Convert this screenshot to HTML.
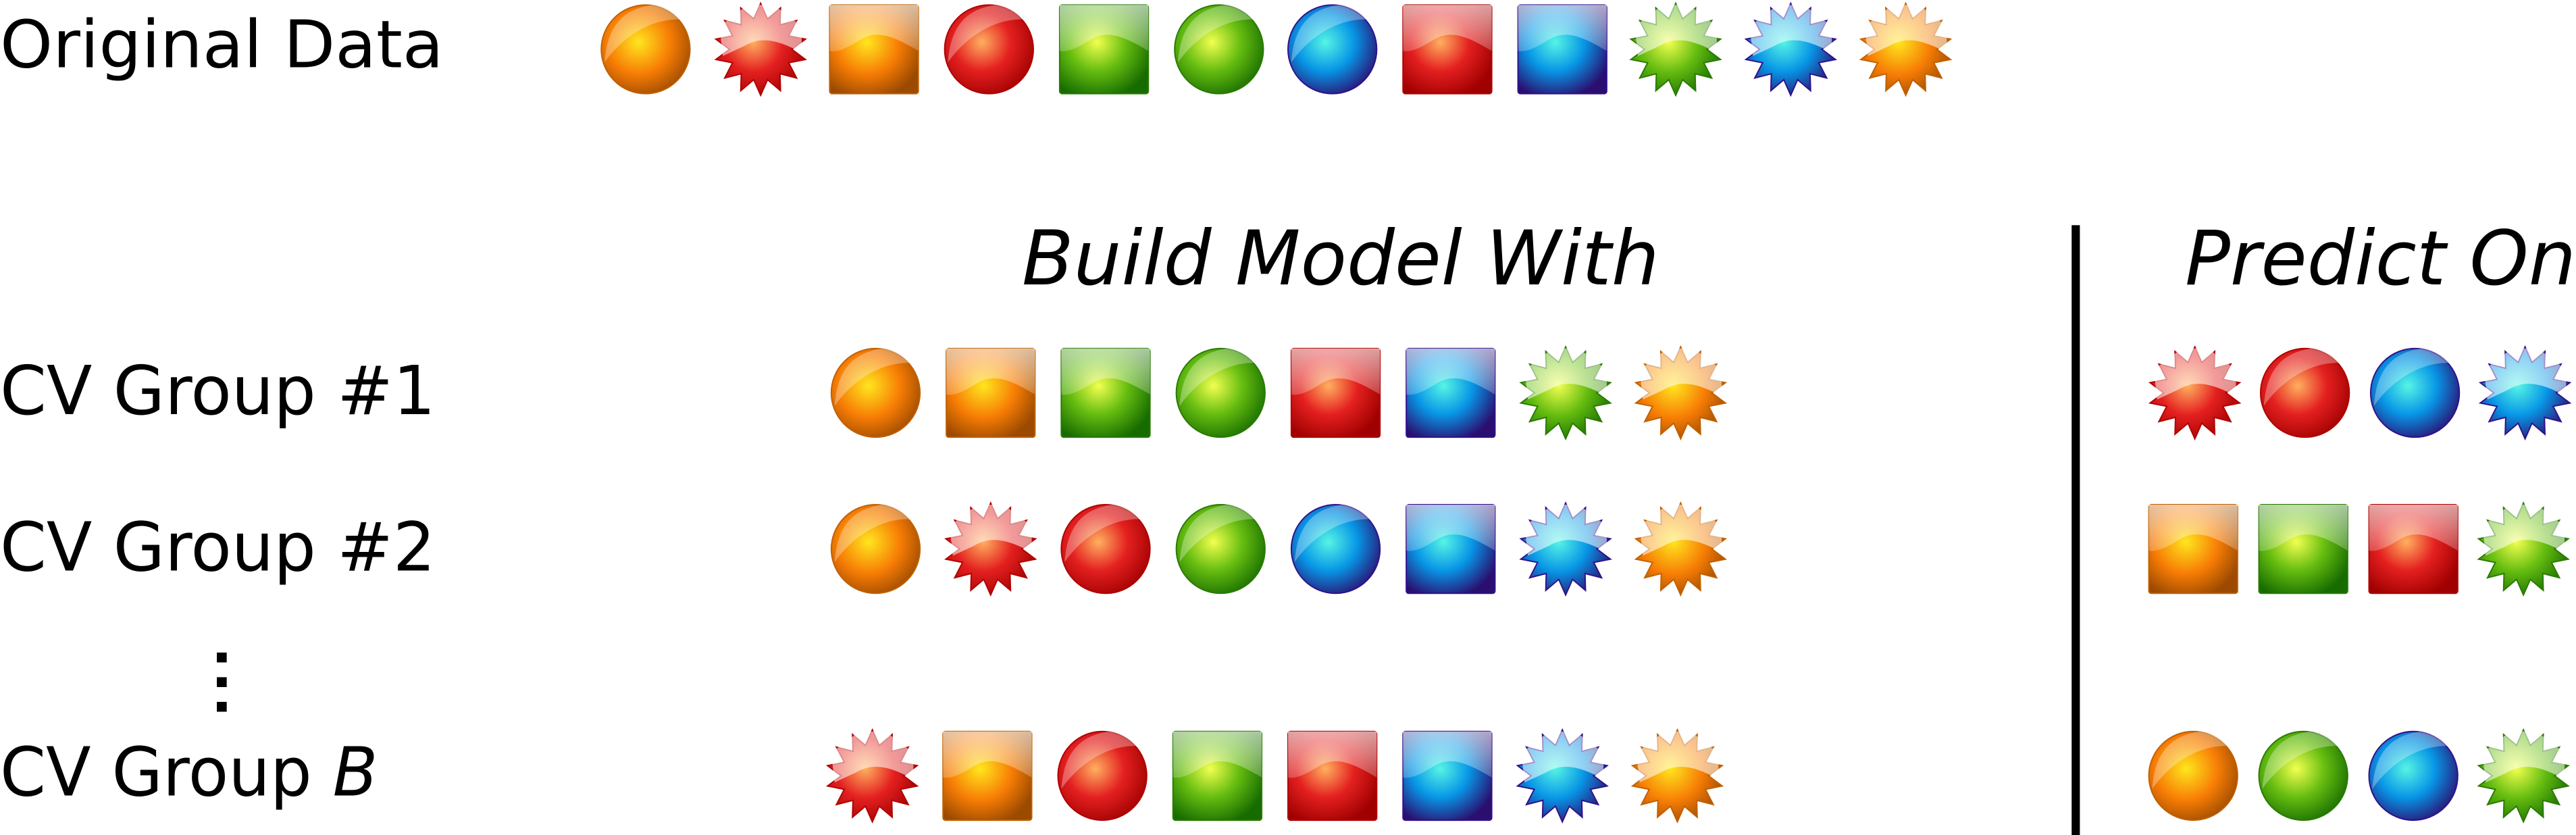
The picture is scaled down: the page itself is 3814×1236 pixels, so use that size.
<!DOCTYPE html>
<html><head><meta charset="utf-8"><style>
html,body{margin:0;padding:0;background:#fff;}
svg{display:block;}
text{font-family:"DejaVu Sans","Liberation Sans",sans-serif;fill:#000;}
</style></head><body>
<svg id="fig" width="3814" height="1236" viewBox="0 0 1568 508" preserveAspectRatio="none" xmlns="http://www.w3.org/2000/svg">
<defs>
<radialGradient id="g-o" cx="0.42" cy="0.42" r="0.65"><stop offset="0" stop-color="#ffe61e"/><stop offset="0.55" stop-color="#f77d05"/><stop offset="1" stop-color="#9c4a00"/></radialGradient>
<radialGradient id="g-r" cx="0.42" cy="0.42" r="0.65"><stop offset="0" stop-color="#ffb060"/><stop offset="0.5" stop-color="#e42020"/><stop offset="1" stop-color="#a00000"/></radialGradient>
<radialGradient id="g-g" cx="0.42" cy="0.42" r="0.65"><stop offset="0" stop-color="#f2ff50"/><stop offset="0.5" stop-color="#66bd10"/><stop offset="1" stop-color="#176c00"/></radialGradient>
<radialGradient id="g-b" cx="0.42" cy="0.42" r="0.65"><stop offset="0" stop-color="#55f5e5"/><stop offset="0.5" stop-color="#0896e6"/><stop offset="1" stop-color="#2a0f70"/></radialGradient>
<linearGradient id="hl" x1="0" y1="0" x2="0" y2="1"><stop offset="0" stop-color="#fff" stop-opacity="0.85"/><stop offset="1" stop-color="#fff" stop-opacity="0.3"/></linearGradient>
</defs>
<text x="0" y="41" font-size="40" textLength="270" lengthAdjust="spacingAndGlyphs">Original Data</text>
<text x="622" y="173" font-size="46" font-style="italic" textLength="388" lengthAdjust="spacingAndGlyphs">Build Model With</text>
<text x="1330" y="173" font-size="46" font-style="italic" textLength="238" lengthAdjust="spacingAndGlyphs">Predict On</text>
<text x="0" y="252" font-size="41" textLength="265" lengthAdjust="spacingAndGlyphs">CV Group #1</text>
<text x="0" y="347" font-size="41" textLength="265" lengthAdjust="spacingAndGlyphs">CV Group #2</text>
<text x="0" y="484" font-size="41" textLength="230" lengthAdjust="spacingAndGlyphs">CV Group <tspan font-style="italic">B</tspan></text>
<g fill="#000">
<rect x="132" y="397" width="6" height="6"/><rect x="132" y="412" width="6" height="6"/><rect x="132" y="427" width="6" height="6"/>
</g>
<rect x="1261" y="137" width="5" height="371" fill="#000"/>
<g id="marks"></g>
</svg>
<script>
// item codes: color (o,r,g,b) + shape (c circle, s square, t star)
const row1Items = ["oc","rt","os","rc","gs","gc","bc","rs","bs","gt","bt","ot"];
const row1X = [393,463,532,602,672,742,811,881,951,1020,1090,1160];
const cv1Build = ["oc","os","gs","gc","rs","bs","gt","ot"];
const cv1Predict = ["rt","rc","bc","bt"];
const cv2Build = ["oc","rt","rc","gc","bc","bs","bt","ot"];
const cv2Predict = ["os","gs","rs","gt"];
const cvBBuild = ["rt","os","rc","gs","rs","bs","bt","ot"];
const cvBPredict = ["oc","gc","bc","gt"];
const rowsY = [30,239,334,472];
const strokeCol = {o:"#c06000",r:"#b00000",g:"#2a7a00",b:"#30108a"};
const NS="http://www.w3.org/2000/svg";
const marks=document.getElementById('marks');
function mk(t,a){const e=document.createElementNS(NS,t);for(const k in a)e.setAttribute(k,a[k]);return e;}
function starPts(cx,cy,R,r,n){let p=[];for(let i=0;i<2*n;i++){const a=Math.PI*i/n-Math.PI/2;const rr=i%2?r:R;p.push((cx+rr*Math.cos(a)).toFixed(1)+","+(cy+rr*Math.sin(a)).toFixed(1));}return p.join(" ");}
function draw(code,cx,cy,name){
  const c=code[0],s=code[1],h=27;
  const g=mk('g',{});
  
  
  const fill="url(#g-"+c+")";
  if(s==="c"){
    g.appendChild(mk('circle',{cx:cx,cy:cy,r:h,fill:fill,stroke:strokeCol[c],"stroke-width":0.8}));
    g.appendChild(mk('path',{d:`M${cx-h+2},${cy+8} C${cx-h+4},${cy-20} ${cx-8},${cy-h+2} ${cx+4},${cy-h} C${cx+16},${cy-h+2} ${cx+24},${cy-18} ${cx+24},${cy-18} C${cx+5},${cy-20} ${cx-14},${cy-8} ${cx-h+2},${cy+8} Z`,fill:"#fff","fill-opacity":0.3}));
  } else if(s==="s"){
    g.appendChild(mk('rect',{x:cx-h,y:cy-h,width:2*h,height:2*h,rx:1.5,fill:fill,stroke:strokeCol[c],"stroke-width":0.8}));
    g.appendChild(mk('path',{d:`M${cx-h},${cy-h} H${cx+h} V${cy+1} C${cx+12},${cy-8} ${cx+2},${cy-12} ${cx-8},${cy-6} C${cx-16},${cy-1} ${cx-22},${cy+2} ${cx-h},${cy+1} Z`,fill:"url(#hl)","fill-opacity":0.75}));
  } else {
    g.appendChild(mk('polygon',{points:starPts(cx,cy,h+1,h-8,14),fill:fill,stroke:strokeCol[c],"stroke-width":0.8}));
    g.appendChild(mk('path',{d:`M${cx-h+4},${cy+4} L${cx-h+2},${cy-14} L${cx-8},${cy-h} L${cx+8},${cy-h} L${cx+h-2},${cy-14} L${cx+h-2},${cy+2} C${cx+10},${cy-6} ${cx},${cy-8} ${cx-10},${cy-2} Z`,fill:"#fff","fill-opacity":0.55}));
  }
  marks.appendChild(g);
}
function drawRow(items,x0,dx,y,prefix){items.forEach((it,i)=>draw(it,x0+i*dx,y,prefix+"-item-"+(i+1)));}
row1Items.forEach((it,i)=>draw(it,row1X[i],rowsY[0],"original-item-"+(i+1)));
drawRow(cv1Build,533,70,rowsY[1],"cv1-build");
drawRow(cv1Predict,1336,67,rowsY[1],"cv1-predict");
drawRow(cv2Build,533,70,rowsY[2],"cv2-build");
drawRow(cv2Predict,1335,67,rowsY[2],"cv2-predict");
drawRow(cvBBuild,531,70,rowsY[3],"cvb-build");
drawRow(cvBPredict,1335,67,rowsY[3],"cvb-predict");
</script>
</body></html>
